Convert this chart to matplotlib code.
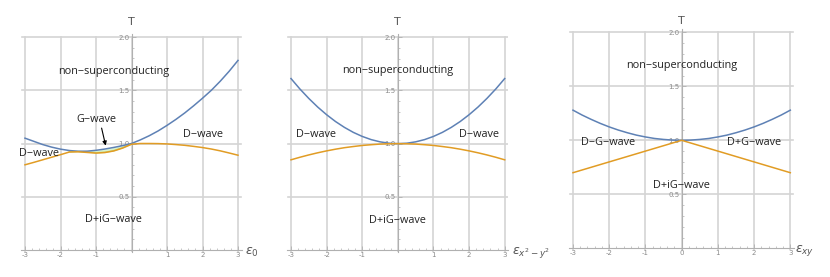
import numpy as np
import matplotlib
matplotlib.use("Agg")
import matplotlib.pyplot as plt
from matplotlib.ticker import MultipleLocator, FixedLocator

plt.rcParams['font.family'] = ['Open Sans', 'DejaVu Sans']

# ---------------- data ----------------
x_fine = [-3, -2.75, -2.5, -2.25, -2, -1.75, -1.5, -1.25, -1, -0.75, -0.5, -0.25,
          0, 0.25, 0.5, 0.75, 1, 1.25, 1.5, 1.75, 2, 2.25, 2.5, 2.75, 3]

# panel 1: epsilon_0
p1_blue = [1.05, 1.02, 0.99, 0.966, 0.947, 0.934, 0.927, 0.928, 0.936, 0.948, 0.963, 0.98,
           1.0, 1.034, 1.073, 1.118, 1.17, 1.226, 1.287, 1.354, 1.425, 1.5, 1.585, 1.678, 1.78]
p1_orange = [0.80, 0.823, 0.847, 0.871, 0.895, 0.92, 0.922, 0.916, 0.91, 0.915, 0.93, 0.957,
             0.993, 1.0, 1.0, 0.999, 0.996, 0.99, 0.983, 0.973, 0.962, 0.948, 0.931, 0.911, 0.89]
p1_gwave_range = [-1.75, 0.0]

# panel 2: epsilon_{x^2-y^2}
p2_blue = [1.612, 1.514, 1.425, 1.344, 1.272, 1.208, 1.153, 1.106, 1.068, 1.038, 1.017, 1.004,
           1.0, 1.004, 1.017, 1.038, 1.068, 1.106, 1.153, 1.208, 1.272, 1.344, 1.425, 1.514, 1.612]
p2_orange = [0.848, 0.872, 0.894, 0.914, 0.932, 0.948, 0.962, 0.973, 0.983, 0.99, 0.996, 0.999,
             1.0, 0.999, 0.996, 0.99, 0.983, 0.973, 0.962, 0.948, 0.932, 0.914, 0.894, 0.872, 0.848]

# panel 3: epsilon_xy
p3_blue = [1.279, 1.234, 1.194, 1.157, 1.124, 1.095, 1.07, 1.048, 1.031, 1.017, 1.008, 1.002,
           1.0, 1.002, 1.008, 1.017, 1.031, 1.048, 1.07, 1.095, 1.124, 1.157, 1.194, 1.234, 1.279]
p3_orange_x = [-3, 0, 3]
p3_orange = [0.70, 1.0, 0.70]

xlabels = [r'$\epsilon_0$', r'$\epsilon_{x^2-y^2}$', r'$\epsilon_{xy}$']
xtick_vals = [-3, -2, -1, 0, 1, 2, 3]
ytick_vals = [0.5, 1.0, 1.5, 2.0]

BLUE = '#5E81B5'
ORANGE = '#E19C24'
GRID = '#d4d4d4'
AXC = '#b0b0b0'
TICKC = '#8a8a8a'

W, H = 830, 277
fig = plt.figure(figsize=(W / 100, H / 100), dpi=100)

# pixel geometry: (x at -3, x at 3, y at T=0, y at T=2)
geoms = [(25, 238, 250, 37), (291, 504.7, 250, 37.3), (573, 790.3, 248.3, 32.3)]
XL = (-3.1, 3.1)
YL = (-0.02, 2.03)

axes = []
for (xa, xb, y0, y2) in geoms:
    ux = (xb - xa) / 6.0
    uy = (y0 - y2) / 2.0
    left = xa + (XL[0] + 3) * ux
    right = xa + (XL[1] + 3) * ux
    top = y0 - YL[1] * uy
    bot = y0 - YL[0] * uy
    ax = fig.add_axes([left / W, 1 - bot / H, (right - left) / W, (bot - top) / H])
    ax.set_xlim(*XL)
    ax.set_ylim(*YL)
    axes.append(ax)

for i, ax in enumerate(axes):
    for s in ['top', 'right']:
        ax.spines[s].set_visible(False)
    ax.spines['left'].set_position(('data', 0))
    ax.spines['bottom'].set_position(('data', 0))
    for s in ['left', 'bottom']:
        ax.spines[s].set_color(AXC)
        ax.spines[s].set_linewidth(0.8)
    # grid
    for xv in xtick_vals:
        ax.plot([xv, xv], [YL[0], 2.0 + 0.0], color=GRID, lw=1.2, zorder=0)
    for yv in ytick_vals:
        ax.plot([XL[0] + 0.02, XL[1] - 0.02], [yv, yv], color=GRID, lw=1.2, zorder=0)
    ax.xaxis.set_major_locator(FixedLocator(xtick_vals))
    ax.xaxis.set_minor_locator(MultipleLocator(0.2))
    ax.yaxis.set_major_locator(FixedLocator(ytick_vals))
    ax.yaxis.set_minor_locator(MultipleLocator(0.1))
    if i == 2:
        ax.set_xticklabels([str(v) for v in xtick_vals])
    else:
        ax.set_xticklabels([str(v) if v != 0 else '' for v in xtick_vals])
    ax.set_yticklabels([f'{v:.1f}' for v in ytick_vals])
    ax.tick_params(axis='both', which='major', direction='in', length=3, width=0.6,
                   color=AXC, labelsize=5, labelcolor=TICKC, pad=1.5)
    for lab in ax.get_xticklabels() + ax.get_yticklabels():
        lab.set_family('DejaVu Sans')
    ax.tick_params(axis='both', which='minor', direction='in', length=1.5, width=0.5,
                   color=AXC)
    ax.set_facecolor('none')
    ty = 2.14 if i < 2 else 2.10
    ax.text(0, ty, 'T', ha='center', va='center', fontsize=8, color='#555555',
            family='DejaVu Sans', clip_on=False)
    ax.text(3.2 if i < 2 else 3.12, -0.02, xlabels[i], ha='left', va='center',
            fontsize=9, color='#555555', clip_on=False)

lw = 1.1
tfs = 7.8
TC = '#222222'

# panel 1
ax = axes[0]
xf = np.array(x_fine)
b1 = np.array(p1_blue)
o1 = np.array(p1_orange)
mask = (xf >= p1_gwave_range[0]) & (xf <= p1_gwave_range[1])
ax.fill_between(xf, o1, b1, where=mask, color='#d9f5d0', lw=0, zorder=1)
ax.plot(xf[mask], o1[mask] + 0.004, color='#c8dc82', lw=1.0, zorder=2)
ax.plot(xf, b1, color=BLUE, lw=lw, zorder=3)
ax.plot(xf, o1, color=ORANGE, lw=lw, zorder=3)
ax.text(-0.5, 1.68, 'non\u2212superconducting', ha='center', va='center', fontsize=tfs, color=TC)
ax.text(-1.0, 1.23, 'G\u2212wave', ha='center', va='center', fontsize=tfs, color=TC)
ax.annotate('', xy=(-0.71, 0.955), xytext=(-0.86, 1.17),
            arrowprops=dict(arrowstyle='-|>', color='black', lw=0.8, mutation_scale=6))
ax.text(-2.6, 0.905, 'D\u2212wave', ha='center', va='center', fontsize=tfs, color=TC)
ax.text(2.0, 1.08, 'D\u2212wave', ha='center', va='center', fontsize=tfs, color=TC)
ax.text(-0.5, 0.29, 'D+iG\u2212wave', ha='center', va='center', fontsize=tfs, color=TC)

# panel 2
ax = axes[1]
ax.plot(x_fine, p2_blue, color=BLUE, lw=lw, zorder=3)
ax.plot(x_fine, p2_orange, color=ORANGE, lw=lw, zorder=3)
ax.text(0, 1.69, 'non\u2212superconducting', ha='center', va='center', fontsize=tfs, color=TC)
ax.text(-2.29, 1.09, 'D\u2212wave', ha='center', va='center', fontsize=tfs, color=TC)
ax.text(2.28, 1.09, 'D\u2212wave', ha='center', va='center', fontsize=tfs, color=TC)
ax.text(0, 0.28, 'D+iG\u2212wave', ha='center', va='center', fontsize=tfs, color=TC)

# panel 3
ax = axes[2]
ax.plot(x_fine, p3_blue, color=BLUE, lw=lw, zorder=3)
ax.plot(p3_orange_x, p3_orange, color=ORANGE, lw=lw, zorder=3)
ax.text(0, 1.69, 'non\u2212superconducting', ha='center', va='center', fontsize=tfs, color=TC)
ax.text(-2.03, 0.98, 'D\u2212G\u2212wave', ha='center', va='center', fontsize=tfs, color=TC)
ax.text(2.0, 0.98, 'D+G\u2212wave', ha='center', va='center', fontsize=tfs, color=TC)
ax.text(0, 0.58, 'D+iG\u2212wave', ha='center', va='center', fontsize=tfs, color=TC)

fig.savefig('out.png', dpi=100)
